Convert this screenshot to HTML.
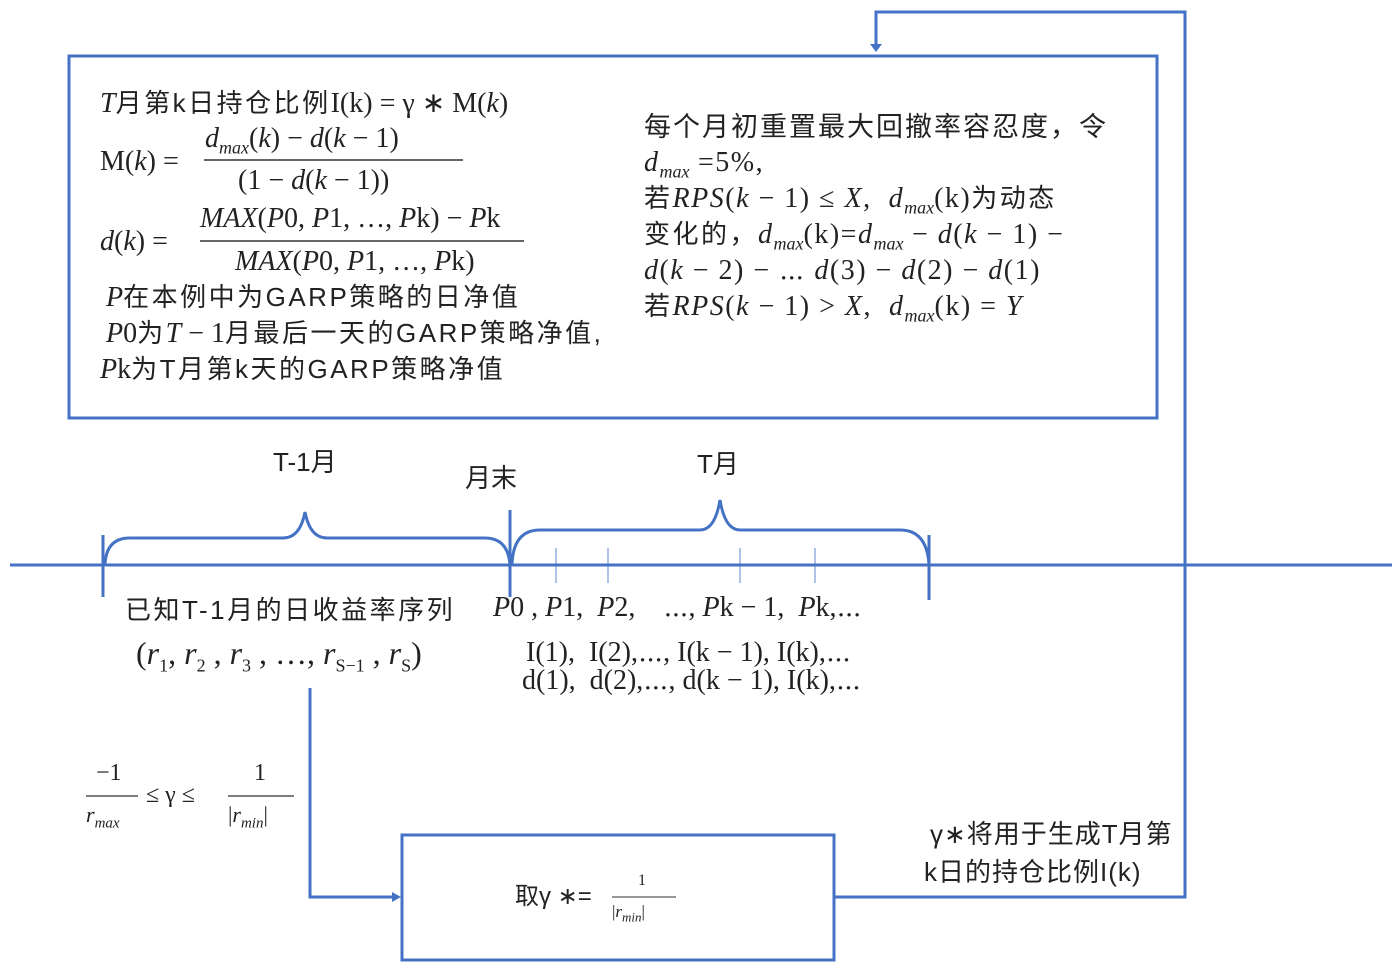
<!DOCTYPE html>
<html><head><meta charset="utf-8"><style>
body{margin:0;width:1395px;height:963px;background:#fff;position:relative;overflow:hidden;font-family:"Liberation Serif","Noto Serif CJK SC",serif;color:#222}
.t{position:absolute;white-space:nowrap;font-size:28px;line-height:30px}
.s{font-family:"Liberation Sans","Noto Sans CJK SC",sans-serif;font-size:26px;letter-spacing:2.5px}
i{font-style:italic}
sub{font-size:18px;letter-spacing:0}
.r{letter-spacing:1.5px}
</style></head><body>
<svg width="1395" height="963" style="position:absolute;left:0;top:0">
<g stroke="#4472c4" fill="none" stroke-width="3">
<rect x="69" y="56" width="1088" height="362"/>
<rect x="402" y="835" width="432" height="125"/>
<line x1="10" y1="565" x2="1392" y2="565"/>
<line x1="103" y1="535" x2="103" y2="597"/>
<line x1="510" y1="510" x2="510" y2="597"/>
<line x1="929" y1="535" x2="929" y2="600"/>
<path d="M105,565 Q106,538 130,538 L283,538 Q300,538 305,512 Q310,538 327,538 L485,538 Q508,538 510,565"/>
<path d="M512,565 Q513,530 540,530 L700,530 Q715,530 720,500 Q725,530 740,530 L900,530 Q927,530 929,565"/>
<path d="M1185,565 L1185,12 L876,12 L876,46"/>
<path d="M1185,560 L1185,897 L834,897"/>
<path d="M310,688 L310,897 L394,897"/>
</g>
<g stroke="#4472c4" stroke-width="1.2" opacity="0.7">
<line x1="556" y1="548" x2="556" y2="583"/><line x1="608" y1="548" x2="608" y2="583"/>
<line x1="740" y1="548" x2="740" y2="583"/><line x1="815" y1="548" x2="815" y2="583"/>
</g>
<polygon points="870,44 882,44 876,52" fill="#4472c4"/>
<polygon points="392,892 392,902 401,897" fill="#4472c4"/>
<line x1="200" y1="241" x2="524" y2="241" stroke="#333" stroke-width="1.5"/>
<line x1="204" y1="160" x2="463" y2="160" stroke="#333" stroke-width="1.5"/>
<line x1="86" y1="796" x2="138" y2="796" stroke="#333" stroke-width="1.2"/>
<line x1="228" y1="796" x2="294" y2="796" stroke="#333" stroke-width="1.2"/>
<line x1="612" y1="897" x2="676" y2="897" stroke="#333" stroke-width="1"/>
</svg>
<div class="t" style="left:100px;top:88px"><i>T</i><span class="s">月第k日持仓比例</span>I(k) = γ ∗ M(<i>k</i>)</div>
<div class="t" style="left:100px;top:147px">M(<i>k</i>) =</div>
<div class="t" style="left:205px;top:124px"><i>d<sub>max</sub></i>(<i>k</i>) − <i>d</i>(<i>k</i> − 1)</div>
<div class="t" style="left:238px;top:166px">(1 − <i>d</i>(<i>k</i> − 1))</div>
<div class="t" style="left:100px;top:227px"><i>d</i>(<i>k</i>) =</div>
<div class="t" style="left:200px;top:204px"><i>MAX</i>(<i>P</i>0, <i>P</i>1, …, <i>P</i>k) − <i>P</i>k</div>
<div class="t" style="left:235px;top:247px"><i>MAX</i>(<i>P</i>0, <i>P</i>1, …, <i>P</i>k)</div>
<div class="t" style="left:106px;top:282px"><i>P</i><span class="s">在本例中为GARP策略的日净值</span></div>
<div class="t" style="left:106px;top:318px"><i>P</i>0<span class="s">为</span><i>T</i> − 1<span class="s">月最后一天的GARP策略净值,</span></div>
<div class="t" style="left:100px;top:354px"><i>P</i>k<span class="s">为T月第k天的GARP策略净值</span></div>
<div class="t" style="left:644px;top:112px"><span class="s" style="font-size:27px;letter-spacing:2px">每个月初重置最大回撤率容忍度，令</span></div>
<div class="t r" style="left:644px;top:148px"><i>d<sub>max</sub></i> =5%,</div>
<div class="t r" style="left:644px;top:183px"><span class="s">若</span><i>RPS</i>(<i>k</i> − 1) ≤ <i>X</i>,&nbsp;&nbsp;<i>d<sub>max</sub></i>(k)<span class="s">为动态</span></div>
<div class="t r" style="left:644px;top:219px"><span class="s">变化的，</span><i>d<sub>max</sub></i>(k)=<i>d<sub>max</sub></i> − <i>d</i>(<i>k</i> − 1) −</div>
<div class="t r" style="left:644px;top:256px"><i>d</i>(<i>k</i> − 2) − ⋯ <i>d</i>(3) − <i>d</i>(2) − <i>d</i>(1)</div>
<div class="t r" style="left:644px;top:291px"><span class="s">若</span><i>RPS</i>(<i>k</i> − 1) &gt; <i>X</i>,&nbsp;&nbsp;<i>d<sub>max</sub></i>(k) = <i>Y</i></div>
<div class="t s" style="left:273px;top:447px;letter-spacing:0">T-1月</div>
<div class="t s" style="left:465px;top:463px;letter-spacing:0">月末</div>
<div class="t s" style="left:697px;top:449px;letter-spacing:0">T月</div>
<div class="t s" style="left:125px;top:595px">已知T-1月的日收益率序列</div>
<div class="t" style="left:136px;top:638px;font-size:32px">(<i>r</i><sub>1</sub>, <i>r</i><sub>2</sub> , <i>r</i><sub>3</sub> , …, <i>r</i><sub>S−1</sub> , <i>r</i><sub>S</sub>)</div>
<div class="t" style="left:493px;top:593px"><i>P</i>0 , <i>P</i>1,&nbsp; <i>P</i>2,&nbsp;&nbsp;&nbsp; ⋯, <i>P</i>k − 1,&nbsp; <i>P</i>k,⋯</div>
<div class="t" style="left:526px;top:638px">I(1),&nbsp; I(2),⋯, I(k − 1), I(k),⋯</div>
<div class="t" style="left:522px;top:666px">d(1),&nbsp; d(2),⋯, d(k − 1), I(k),⋯</div>
<div class="t" style="left:96px;top:758px;font-size:24px">−1</div>
<div class="t" style="left:86px;top:800px;font-size:22px"><i>r<sub style="font-size:15px">max</sub></i></div>
<div class="t" style="left:146px;top:780px;font-size:24px">≤ γ ≤</div>
<div class="t" style="left:254px;top:758px;font-size:24px">1</div>
<div class="t" style="left:228px;top:800px;font-size:22px">|<i>r<sub style="font-size:15px">min</sub></i>|</div>
<div class="t s" style="left:515px;top:882px;font-size:24px;letter-spacing:0">取γ ∗=</div>
<div class="t" style="left:638px;top:872px;font-size:16px;line-height:18px">1</div>
<div class="t" style="left:612px;top:902px;font-size:17px;line-height:20px">|<i>r<sub style="font-size:13px">min</sub></i>|</div>
<div class="t s" style="left:930px;top:819px;letter-spacing:1px">γ∗将用于生成T月第</div>
<div class="t s" style="left:924px;top:857px;letter-spacing:1px">k日的持仓比例I(k)</div>
</body></html>
